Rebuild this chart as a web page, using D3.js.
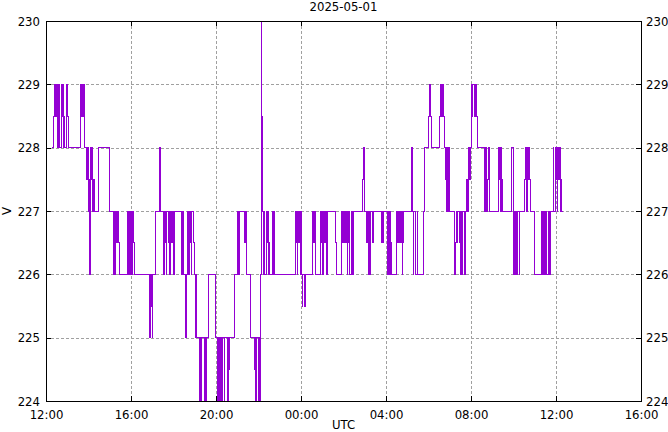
<!DOCTYPE html>
<html><head><meta charset="utf-8">
<script src="https://cdn.jsdelivr.net/npm/d3@7/dist/d3.min.js"></script>
<style>
body{margin:0;background:#fff}
text{font-family:"Liberation Sans Narrow","DejaVu Sans Condensed",sans-serif;font-size:13px;fill:#000}
</style>
</head><body>
<svg id="chart" width="668" height="432"></svg>
<script>
// ---- data: [minutes since 12:00 UTC, volts] step samples ----
const titleText = "2025-05-01";
const xLabel = "UTC";
const yLabel = "V";
const startUTC = "2025-05-01T12:00:00Z";
const endUTC = "2025-05-02T16:00:00Z";
const yTicks = [224, 225, 226, 227, 228, 229, 230];
const xTickHours = [0, 4, 8, 12, 16, 20, 24, 28];

const afternoon = [
 [17,228],[20.6,228.5],[23.4,229],[25.4,228.5],[27.4,229],[30.2,228.5],[31.9,229],[33,228],
 [35.9,229],[38.1,228.5],[39.5,228],[42.4,229],[45.2,228.5],[47.2,229],[48.8,228],[51.7,228.5],
 [53.6,228],[56.5,229],[60.1,228.5],[64.1,228],[96.8,228.5],[98.8,229],[100.8,228.5],[103.1,229],
 [105.3,228.5],[108.1,229],[110.1,228],[114.9,227.5],[116.6,228],[119.4,227.5],[121.4,227],
 [122.8,227.5],[124.2,226],[126.2,228],[129,227.5],[130.7,228],[131.9,227],[134.1,227.5],
 [136.4,227],[147.7,228],[177.9,227.5],[180.7,227],[190,226],[192,227],[194,226],[195.7,227],
 [199.6,226.5],[201.3,227],[204.1,226.5],[207,226],[229.6,227],[231.5,226],[233.5,227],
 [235.2,226],[237.2,227],[239.1,226.5],[240.8,227],[242.8,226],[244.8,227],[246.5,226.5],
 [249.3,226],[291.7,225.5],[292.8,225],[294.5,226],[295.6,225.5],[297.3,226],[299.3,225],
 [300.7,226],[307.8,227],[319.9,228],[321.9,227],[323.3,227.5],[324.7,227],[331.2,226],
 [333.2,227],[336,226.5],[338,227],[339.7,226],[341.6,227],[344.5,226.5],[346.4,227],
 [349.3,226],[351,227],[352.9,226.5],[354.9,227],[356.6,226.5],[358.6,227],[361.4,226],
 [363.4,227],[383.2,226],[384.8,227],[387.7,226],[393.3,225.5],[394.7,225],[396.1,225.5],
 [397.5,226],[400.9,227],[402.3,226],[404.6,227],[406.6,226.5],[408,227],[410.3,226],
 [412.2,227],[415.9,226.5],[418.7,226]
];
const evening = [
 [421.5,225],[423.5,226],[425.5,225],[434.8,224],[436.8,225],[437.6,224],[439.6,225],
 [447,224],[448.9,225],[450.9,224],[452.6,225],[459.4,226],[478,225],[484.8,224],[486.5,225],
 [489.3,224],[491.3,225],[496.1,224],[497.8,225],[503.4,224],[504.8,225],[513,224],[514.7,225],
 [517.6,224.5],[518.9,225],[531.7,226],[539.3,227],[541.3,226],[543.5,227],[544.9,226],
 [546.4,227],[559.9,226.5],[561.9,227],[563.3,226.5],[564.7,227],[566.7,226],[578,225],
 [589.3,224.5],[591,225],[592.4,224],[594.3,225],[598.6,224],[600.8,225],[603.4,224],
 [605.1,226],[607.1,230],[609.3,228.5],[611.3,227],[613.5,226],[616.9,227],[618.3,226],
 [623.2,227],[624.6,226.5],[626,227],[627.7,226],[629.6,226.5],[631.1,226],[640.1,227],
 [641.8,226],[642.9,227],[644.6,226]
];
const night = [
 [703.9,227],[705.9,226.5],[707.3,227],[709.6,226],[711.5,227],[713.5,226.5],[715.2,227],
 [717.2,226],[719.1,227],[720.8,226],[723.7,225.5],[725.6,226],[728.5,225.5],[729.9,226],
 [732.1,225.5],[734.1,226],[753,227],[754.7,226.5],[756.1,227],[757.6,226.5],[759,227],
 [760.4,226.5],[761.5,226],[775.6,227],[778.4,226.5],[780.1,227],[782.1,226],[783.5,227],
 [784.9,226.5],[786.3,227],[787.8,226.5],[789.2,227],[790.6,226],[794.3,227],[818.8,226.5],
 [820.8,226],[834.9,227],[836.6,226.5],[838,227],[839.4,226.5],[840.8,227],[842.3,226.5],
 [843.7,227],[845.6,226.5],[847.1,227],[850.7,226],[852.7,227],[854.7,226.5],[856.4,227],
 [858.3,226],[861.2,227],[864,226],[867.7,227],[894.2,227.5],[895.6,228],[897,227.5],
 [898.4,228],[899.9,227],[905.5,226.5],[907.2,227],[909.2,226],[911.2,227],[912.8,226],
 [915.7,227],[922.4,226.5],[924.1,227],[947.8,226.5],[949.3,227],[950.7,226.5],[952.4,227],
 [963.7,226],[966.5,227],[969.3,226],[971.3,227],[973.3,226.5],[976.1,226],[990.2,227],
 [991.9,226.5],[994.7,227],[996.7,226.5],[998.1,227],[999.5,226.5],[1000.9,227],[1002.3,226.5],
 [1003.8,227],[1005.2,226],[1007.1,227],[1008.8,226.5],[1010.8,227],[1032.5,228],[1034.2,227.5],
 [1035.6,227],[1037,226],[1039,227],[1041.9,226],[1048.4,227],[1050.3,226],[1065.3,227]
];
const morning = [
 [1070.1,228],[1079.4,228.5],[1082.3,229],[1084.2,228.5],[1085.6,229],[1087,228.5],[1089,228],
 [1110.5,228.5],[1112.5,229],[1117.3,228.5],[1119,229],[1121.8,228.5],[1124.6,228],[1126.6,227.5],
 [1128.6,228],[1130,227.5],[1131.4,227],[1133.1,228],[1135.9,227],[1137.9,228],[1140.7,227],
 [1152.1,226.5],[1153.4,227],[1154.8,226],[1156.2,226.5],[1158.2,227],[1159.6,226.5],[1161,227],
 [1167,226.5],[1168.4,227],[1169.8,226],[1171.8,226.5],[1173.7,227],[1175.4,226],[1177.4,227],
 [1181.1,226],[1183.1,227],[1187.8,227.5],[1190.1,227],[1192.4,228],[1194.3,227.5],[1195.8,228],
 [1197.2,227.5],[1199.1,228],[1200.8,229],[1202.8,228.5],[1204.8,229],[1208.5,228.5],[1210.4,229],
 [1212.7,228.5],[1214.7,229],[1216.1,228.5],[1218.9,228],[1239.5,227],[1241.5,228],[1243.8,227],
 [1246,227.5],[1248.8,228],[1250.2,227.5],[1251.7,228],[1253.6,227],[1277.1,227.5],[1279,228],
 [1280.5,227.5],[1281.9,228],[1283.8,227],[1285.5,228],[1287.5,227.5],[1289.5,227],[1314.9,228],
 [1319.4,227],[1321.4,226],[1323.4,227],[1326.2,226],[1328.5,227],[1330.7,226],[1332.7,227],
 [1336.4,226],[1338.3,227],[1352.4,227.5],[1353.9,228],[1355.3,227.5],[1356.7,228],[1358.1,227],
 [1359.5,228],[1360.9,227.5],[1362.9,228],[1364.6,227.5],[1366.6,227],[1380.7,226],[1399.6,227],
 [1401.3,226],[1406.1,227],[1408.1,226],[1411.7,227],[1413.7,226],[1418.2,227],[1423,226],
 [1424.5,227],[1432.4,228],[1434.3,227],[1437.2,228],[1439.1,227.5],[1441.4,228],[1443.7,227],
 [1445.6,228],[1447.6,227.5],[1449.3,228],[1451.3,227.5],[1452.7,227],[1454.1,227.5],[1456.1,227],
 [1458.4,227]
];

// ---- drawing ----
const W = 668, H = 432;
const margin = {left: 46, right: 27, top: 21, bottom: 31};
const t0 = new Date(startUTC), t1 = new Date(endUTC);
const samples = afternoon.concat(evening, night, morning)
  .map(([m, v]) => ({t: new Date(t0.getTime() + m * 60000), v}));

const x = d3.scaleUtc().domain([t0, t1]).range([margin.left, W - margin.right]);
const y = d3.scaleLinear().domain([yTicks[0], yTicks[yTicks.length - 1]]).range([H - margin.bottom, margin.top]);
const xTicks = xTickHours.map(h => new Date(t0.getTime() + h * 3600000));

const svg = d3.select("#chart");
const x0 = margin.left, x1 = W - margin.right, y0 = H - margin.bottom, y1 = margin.top;

// grid
const grid = svg.append("g").attr("stroke", "#a0a0a0").attr("stroke-width", 1)
  .attr("stroke-dasharray", "3,2").attr("shape-rendering", "crispEdges");
grid.selectAll("line.gx").data(xTicks.slice(1, -1)).join("line")
  .attr("x1", d => Math.round(x(d)) + 0.5).attr("x2", d => Math.round(x(d)) + 0.5)
  .attr("y1", y1).attr("y2", y0);
grid.selectAll("line.gy").data(yTicks.slice(1, -1)).join("line")
  .attr("y1", d => Math.round(y(d)) + 0.5).attr("y2", d => Math.round(y(d)) + 0.5)
  .attr("x1", x0).attr("x2", x1);

// data line
const line = d3.line().x(d => x(d.t)).y(d => y(d.v)).curve(d3.curveStepAfter);
svg.append("path").datum(samples).attr("d", line)
  .attr("fill", "none").attr("stroke", "#9400d3").attr("stroke-width", 1)
  .attr("shape-rendering", "crispEdges");

// axes (inward ticks on all sides)
const fmt = d3.utcFormat("%H:%M");
const axB = svg.append("g").attr("transform", `translate(0,${y0})`)
  .call(d3.axisBottom(x).tickValues(xTicks).tickFormat(fmt).tickSizeInner(-5).tickSizeOuter(0).tickPadding(9));
const axT = svg.append("g").attr("transform", `translate(0,${y1})`)
  .call(d3.axisTop(x).tickValues(xTicks).tickFormat("").tickSizeInner(-5).tickSizeOuter(0));
const axL = svg.append("g").attr("transform", `translate(${x0},0)`)
  .call(d3.axisLeft(y).tickValues(yTicks).tickFormat(d3.format("d")).tickSizeInner(-5).tickSizeOuter(0).tickPadding(6));
const axR = svg.append("g").attr("transform", `translate(${x1},0)`)
  .call(d3.axisRight(y).tickValues(yTicks).tickFormat(d3.format("d")).tickSizeInner(-5).tickSizeOuter(0).tickPadding(5));
[axB, axT, axL, axR].forEach(g => {
  g.select(".domain").remove();
  g.selectAll("line").attr("stroke", "#000").attr("shape-rendering", "crispEdges");
  g.selectAll("text").attr("font-family", null).attr("font-size", null).attr("fill", "#000");
});

// frame
svg.append("rect").attr("x", x0 + 0.5).attr("y", y1 + 0.5)
  .attr("width", x1 - x0).attr("height", y0 - y1)
  .attr("fill", "none").attr("stroke", "#000").attr("stroke-width", 1).attr("shape-rendering", "crispEdges");

// labels
svg.append("text").attr("x", (x0 + x1) / 2).attr("y", 11).attr("text-anchor", "middle").text(titleText);
svg.append("text").attr("x", (x0 + x1) / 2).attr("y", 429).attr("text-anchor", "middle").text(xLabel);
svg.append("text").attr("transform", `translate(11,${(y0 + y1) / 2}) rotate(-90)`)
  .attr("text-anchor", "middle").text(yLabel);
</script>
</body></html>
